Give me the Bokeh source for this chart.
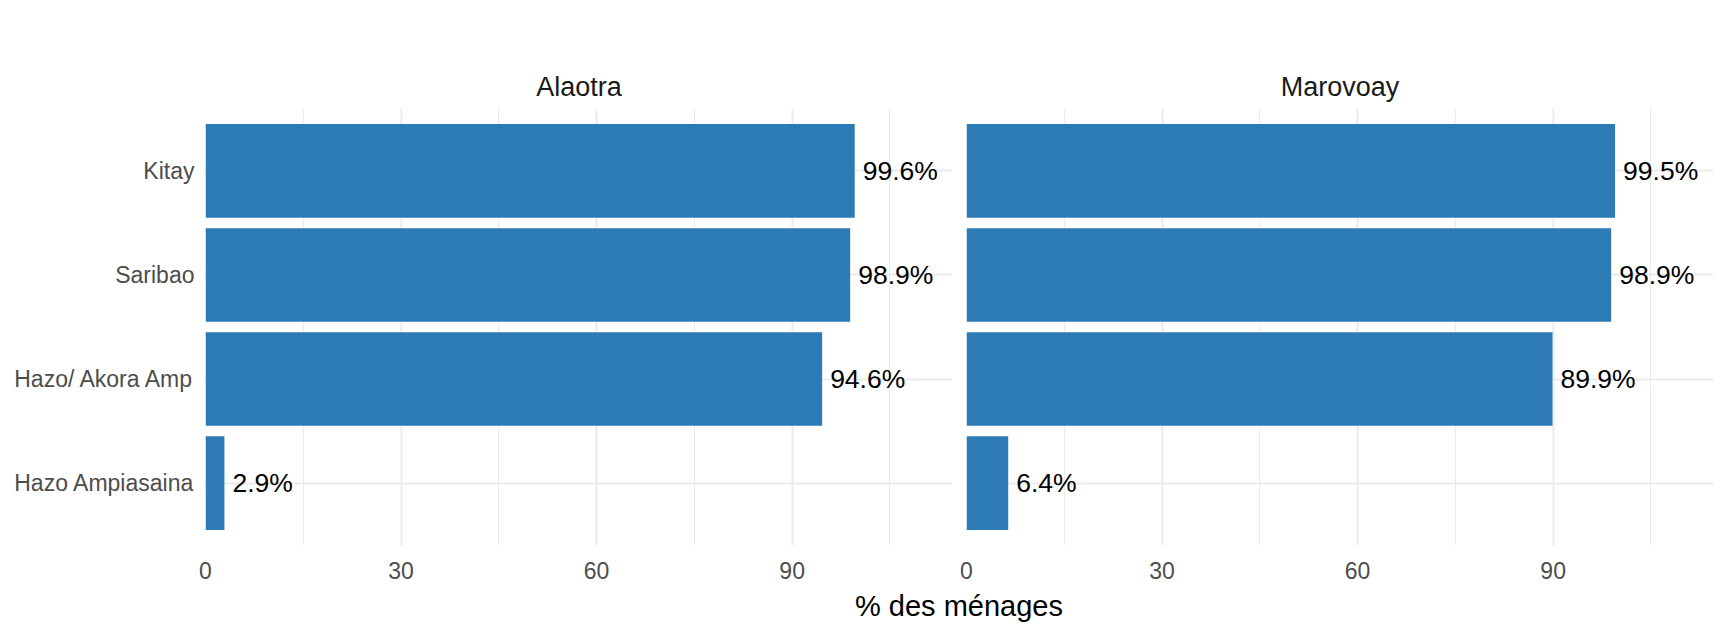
from bokeh.plotting import figure
from bokeh.models import Range1d, FactorRange, ColumnDataSource, FixedTicker, Title
from bokeh.layouts import row, column
from bokeh.embed import file_html
from bokeh.resources import INLINE
from bokeh.core.properties import value

# ---- data ----
categories = ["Hazo Ampiasaina", "Hazo/ Akora Amp", "Saribao", "Kitay"]
panel_names = ["Alaotra", "Marovoay"]
alaotra = [2.9, 94.6, 98.9, 99.6]
marovoay = [6.4, 89.9, 98.9, 99.5]
x_ticks = [0, 30, 60, 90]
x_minor_ticks = [15, 45, 75, 105]
x_label = "% des ménages"

FONT = "Liberation Sans"
BAR = "#2c7bb6"
GRID = "#ebebeb"
X_MAX = 114.6
FIG_H = 587


def panel(name, vals, show_y, width, mbl, mbr):
    p = figure(
        width=width, height=FIG_H,
        y_range=FactorRange(factors=categories, range_padding=0.05),
        x_range=Range1d(0, X_MAX),
        output_backend="svg", toolbar_location=None,
        min_border_left=mbl, min_border_right=mbr,
        min_border_top=108, min_border_bottom=42,
        y_axis_location="left" if show_y else None,
    )
    p.outline_line_color = None
    p.background_fill_color = "white"
    p.border_fill_color = "white"

    src = ColumnDataSource(dict(
        cat=categories, v=vals, lbl=[f"{v:.1f}%" for v in vals]))
    p.hbar(y="cat", right="v", left=0, height=0.9, source=src,
           fill_color=BAR, line_color=None)
    p.text(x="v", y="cat", text="lbl", source=src, x_offset=8,
           text_align="left", text_baseline="middle",
           text_font_size="26.5px", text_font=value(FONT), text_color="black")

    # grids
    p.xgrid.ticker = FixedTicker(ticks=x_ticks, minor_ticks=x_minor_ticks)
    p.xgrid.grid_line_color = GRID
    p.xgrid.grid_line_width = 2
    p.xgrid.minor_grid_line_color = GRID
    p.xgrid.minor_grid_line_width = 1
    p.ygrid.grid_line_color = GRID
    p.ygrid.grid_line_width = 2

    # axes
    p.xaxis.ticker = FixedTicker(ticks=x_ticks)
    for ax in p.axis:
        ax.axis_line_color = None
        ax.major_tick_line_color = None
        ax.minor_tick_line_color = None
        ax.major_tick_out = 0
        ax.major_tick_in = 0
        ax.minor_tick_out = 0
        ax.major_label_text_font = FONT
        ax.major_label_text_font_size = "23px"
        ax.major_label_text_color = "#4d4d4d"
    p.xaxis.major_label_standoff = 16
    if show_y:
        p.yaxis.major_label_standoff = 11

    p.title.text = name
    p.title.align = "center"
    p.title.text_font = FONT
    p.title.text_font_size = "27px"
    p.title.text_font_style = "normal"
    p.title.text_color = "#1a1a1a"
    p.title.standoff = 13
    return p


left = panel(panel_names[0], alaotra, True, 959, 205, 7)
right = panel(panel_names[1], marovoay, False, 762, 7, 8)

# shared x-axis title: the title of a thin strip whose (empty) frame is
# centred under the two panels
TOTAL_W = 1721
bottom = figure(width=TOTAL_W, height=42, x_range=Range1d(0, 1),
                y_range=Range1d(0, 1), x_axis_location=None,
                y_axis_location=None, min_border_left=196,
                min_border_right=0, min_border_top=0, min_border_bottom=0,
                output_backend="svg", toolbar_location=None)
bottom.outline_line_color = None
bottom.grid.visible = False
bottom.title = Title(text=x_label, align="center", text_font=FONT,
                     text_font_size="29px", text_font_style="normal",
                     text_color="black", standoff=0)

layout = column(row(left, right), bottom)
open("out.html", "w").write(file_html(layout, INLINE))
